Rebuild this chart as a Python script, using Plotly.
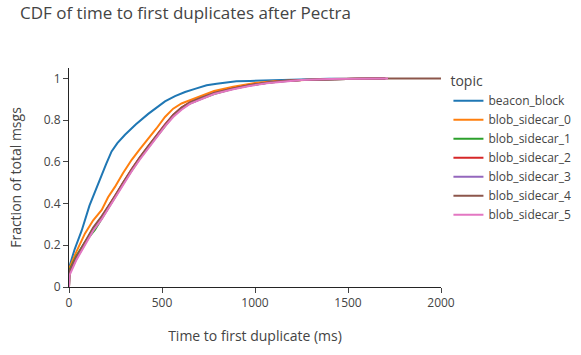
import plotly.graph_objects as go

topics = ["beacon_block", "blob_sidecar_0", "blob_sidecar_1", "blob_sidecar_2",
          "blob_sidecar_3", "blob_sidecar_4", "blob_sidecar_5"]
colors = ["#1f77b4", "#ff7f0e", "#2ca02c", "#d62728", "#9467bd", "#8c564b", "#e377c2"]

beacon_x = [0, 2, 30, 68, 110, 158, 200, 229, 260, 301, 360, 426, 470, 516, 570, 624, 677, 740, 794, 848, 900, 973, 1050, 1134, 1250, 1400, 1550, 1700]
beacon_y = [0.0, 0.097, 0.18, 0.27, 0.39, 0.50, 0.59, 0.65, 0.69, 0.73, 0.78, 0.83, 0.86, 0.89, 0.915, 0.935, 0.95, 0.967, 0.975, 0.982, 0.986, 0.988, 0.990, 0.992, 0.995, 0.998, 0.999, 1.0]

b0_x = [0, 2, 40, 86, 130, 176, 210, 247, 290, 337, 380, 426, 470, 516, 560, 605, 650, 704, 780, 883, 1000, 1100, 1250, 1400, 1550, 1700]
b0_y = [0.0, 0.09, 0.17, 0.257, 0.32, 0.37, 0.43, 0.48, 0.545, 0.61, 0.66, 0.71, 0.76, 0.815, 0.855, 0.88, 0.895, 0.915, 0.94, 0.96, 0.978, 0.986, 0.993, 0.997, 0.999, 1.0]

b1_x = [0, 2, 40, 86, 140, 176, 247, 290, 337, 380, 426, 470, 516, 560, 605, 650, 704, 780, 883, 970, 1062, 1134, 1250, 1400, 1550, 1700]
b1_y = [0.0, 0.08, 0.15, 0.215, 0.275, 0.325, 0.43, 0.495, 0.56, 0.615, 0.67, 0.72, 0.775, 0.82, 0.855, 0.88, 0.90, 0.925, 0.95, 0.966, 0.978, 0.985, 0.992, 0.997, 0.999, 1.0]

b2_x = [0, 2, 40, 86, 130, 176, 247, 290, 337, 380, 426, 470, 516, 560, 605, 650, 704, 780, 883, 970, 1062, 1134, 1250, 1400, 1550, 1700]
b2_y = [0.0, 0.07, 0.14, 0.215, 0.28, 0.335, 0.435, 0.50, 0.565, 0.62, 0.675, 0.725, 0.78, 0.825, 0.86, 0.885, 0.905, 0.93, 0.952, 0.967, 0.979, 0.986, 0.993, 0.997, 0.999, 1.0]

b3_x = [0, 2, 40, 86, 130, 176, 247, 290, 337, 380, 426, 470, 516, 560, 605, 650, 704, 780, 883, 970, 1062, 1134, 1250, 1400, 1550, 1700]
b3_y = [0.0, 0.065, 0.135, 0.21, 0.275, 0.33, 0.43, 0.495, 0.56, 0.615, 0.67, 0.72, 0.775, 0.82, 0.855, 0.88, 0.90, 0.928, 0.95, 0.966, 0.978, 0.985, 0.992, 0.997, 0.999, 1.0]

b4_x = [0, 2, 40, 86, 130, 176, 247, 290, 337, 380, 426, 470, 516, 560, 605, 650, 704, 780, 883, 970, 1062, 1134, 1250, 1400, 1550, 1700, 1850, 2000]
b4_y = [0.0, 0.075, 0.145, 0.22, 0.285, 0.34, 0.435, 0.50, 0.565, 0.62, 0.675, 0.725, 0.78, 0.825, 0.86, 0.885, 0.905, 0.93, 0.952, 0.967, 0.979, 0.986, 0.993, 0.997, 0.999, 1.0, 1.0, 1.0]

b5_x = [0, 2, 40, 86, 130, 176, 247, 290, 337, 380, 426, 470, 516, 560, 605, 650, 704, 780, 883, 970, 1062, 1134, 1250, 1400, 1550, 1715]
b5_y = [0.0, 0.055, 0.13, 0.205, 0.27, 0.325, 0.425, 0.49, 0.555, 0.61, 0.665, 0.715, 0.77, 0.815, 0.85, 0.878, 0.898, 0.925, 0.948, 0.964, 0.977, 0.984, 0.992, 0.997, 0.999, 1.0]

xs = [beacon_x, b0_x, b1_x, b2_x, b3_x, b4_x, b5_x]
ys = [beacon_y, b0_y, b1_y, b2_y, b3_y, b4_y, b5_y]

fig = go.Figure()
for name, c, x, y in zip(topics, colors, xs, ys):
    fig.add_trace(go.Scatter(x=x, y=y, mode="lines", name=name,
                             line=dict(color=c, width=2)))

fig.update_layout(
    template="simple_white",
    width=581, height=355,
    margin=dict(l=69, r=140, t=68, b=68, autoexpand=False),
    font=dict(family="Open Sans, sans-serif", color="#444"),
    title=dict(text="CDF of time to first duplicates after Pectra", x=20/581, xanchor="left",
               y=1 - 13/355, yanchor="middle", font=dict(size=17)),
    legend=dict(title=dict(text="topic")),
    xaxis=dict(title=dict(text="Time to first duplicate (ms)", standoff=20), range=[0, 2000],
               tickvals=[0, 500, 1000, 1500, 2000]),
    yaxis=dict(title=dict(text="Fraction of total msgs", standoff=18), range=[0, 1.05],
               tickvals=[0, 0.2, 0.4, 0.6, 0.8, 1]),
)

fig.write_html("out.html")
